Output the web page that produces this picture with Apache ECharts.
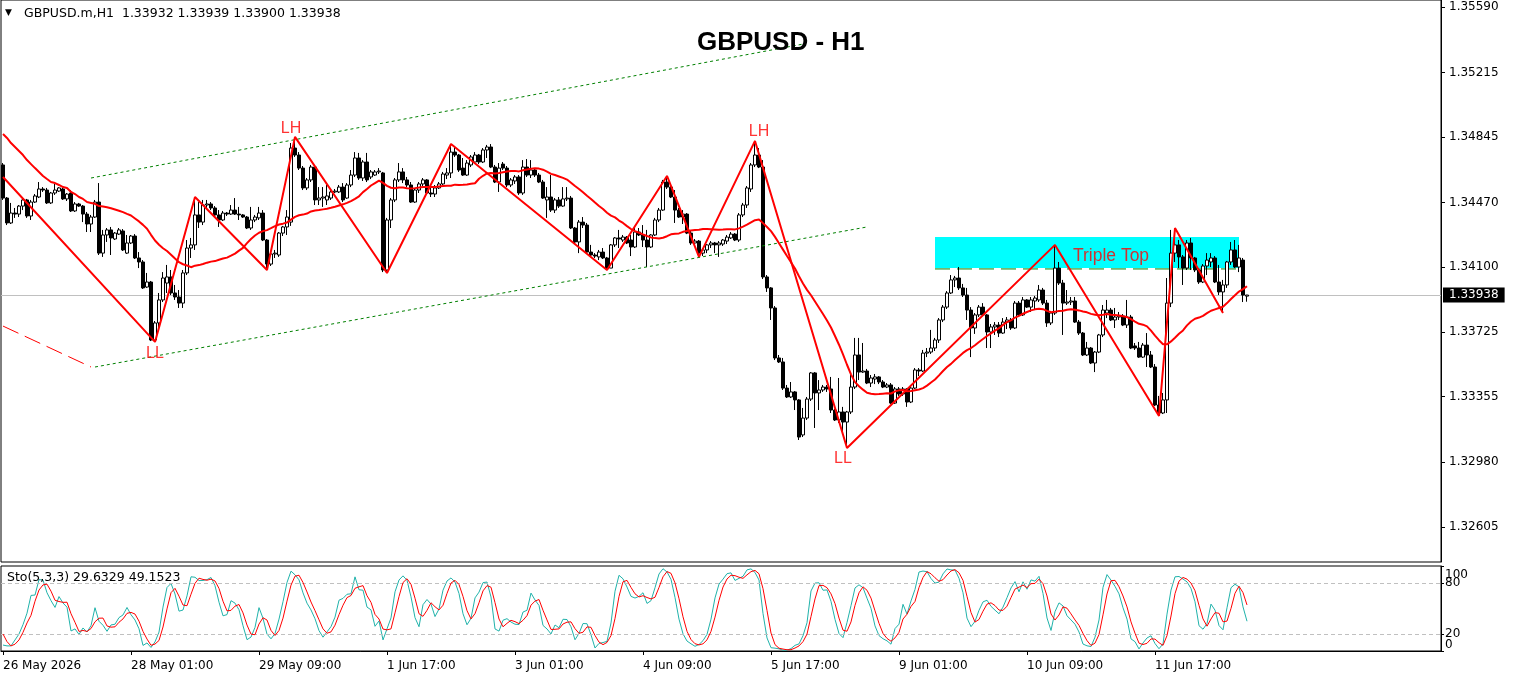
<!DOCTYPE html>
<html><head><meta charset="utf-8">
<script src="https://cdn.jsdelivr.net/npm/echarts@6/dist/echarts.min.js"></script>
<style>html,body{margin:0;padding:0;background:#fff}#c{width:1513px;height:679px}</style>
</head><body><div id="c"></div>
<script>
// ---------- DATA ----------
// hourly candles: [open, high, low, close]
const ohlc = [
[1.34685,1.34696,1.34484,1.34495],[1.34495,1.34501,1.34340,1.34352],[1.34352,1.34467,1.34346,1.34409],[1.34409,1.34438,1.34381,1.34403],
[1.34403,1.34455,1.34386,1.34449],[1.34449,1.34501,1.34426,1.34484],[1.34484,1.34490,1.34381,1.34392],[1.34392,1.34484,1.34369,1.34472],
[1.34472,1.34518,1.34467,1.34507],[1.34501,1.34587,1.34495,1.34547],[1.34547,1.34558,1.34530,1.34541],[1.34541,1.34553,1.34461,1.34467],
[1.34467,1.34530,1.34461,1.34524],[1.34524,1.34576,1.34513,1.34541],[1.34535,1.34558,1.34530,1.34553],[1.34547,1.34553,1.34484,1.34490],
[1.34490,1.34524,1.34478,1.34518],[1.34524,1.34541,1.34415,1.34421],[1.34421,1.34472,1.34415,1.34461],[1.34461,1.34467,1.34444,1.34449],
[1.34449,1.34455,1.34357,1.34403],[1.34403,1.34415,1.34300,1.34346],[1.34346,1.34398,1.34300,1.34386],[1.34386,1.34484,1.34381,1.34472],
[1.34472,1.34581,1.34168,1.34179],[1.34179,1.34312,1.34157,1.34283],[1.34283,1.34323,1.34243,1.34312],[1.34312,1.34329,1.34168,1.34266],
[1.34260,1.34300,1.34254,1.34294],[1.34288,1.34323,1.34283,1.34312],[1.34306,1.34317,1.34191,1.34197],[1.34179,1.34283,1.34174,1.34237],
[1.34237,1.34283,1.34231,1.34277],[1.34277,1.34288,1.34145,1.34151],[1.34151,1.34185,1.34093,1.34128],[1.34128,1.34139,1.33973,1.33979],
[1.33984,1.34065,1.33979,1.34013],[1.34013,1.34019,1.33674,1.33680],[1.33680,1.33789,1.33669,1.33778],[1.33778,1.33950,1.33738,1.33910],
[1.33910,1.34070,1.33898,1.34036],[1.34007,1.34111,1.33950,1.34042],[1.34042,1.34082,1.33938,1.33950],[1.33950,1.33996,1.33910,1.33927],
[1.33927,1.33967,1.33864,1.33892],[1.33892,1.34082,1.33864,1.34065],[1.34065,1.34254,1.34053,1.34208],[1.34208,1.34266,1.34151,1.34226],
[1.34226,1.34501,1.34197,1.34398],[1.34398,1.34472,1.34323,1.34357],[1.34357,1.34484,1.34340,1.34455],[1.34455,1.34484,1.34438,1.34461],
[1.34461,1.34472,1.34426,1.34438],[1.34438,1.34449,1.34386,1.34398],[1.34398,1.34426,1.34329,1.34369],[1.34369,1.34421,1.34363,1.34409],
[1.34409,1.34415,1.34392,1.34403],[1.34403,1.34455,1.34398,1.34426],[1.34426,1.34495,1.34398,1.34403],[1.34403,1.34444,1.34369,1.34398],
[1.34398,1.34403,1.34381,1.34386],[1.34386,1.34392,1.34317,1.34323],[1.34323,1.34444,1.34312,1.34369],[1.34369,1.34398,1.34357,1.34386],
[1.34381,1.34444,1.34369,1.34409],[1.34409,1.34426,1.34248,1.34254],[1.34254,1.34260,1.34082,1.34116],[1.34116,1.34185,1.34105,1.34174],
[1.34174,1.34197,1.34151,1.34179],[1.34168,1.34300,1.34157,1.34294],[1.34294,1.34335,1.34277,1.34329],[1.34329,1.34426,1.34283,1.34386],
[1.34357,1.34811,1.34335,1.34782],[1.34782,1.34846,1.34731,1.34742],[1.34742,1.34759,1.34656,1.34667],[1.34667,1.34679,1.34541,1.34553],
[1.34553,1.34610,1.34541,1.34599],[1.34599,1.34685,1.34587,1.34673],[1.34673,1.34679,1.34455,1.34484],[1.34484,1.34558,1.34455,1.34495],
[1.34495,1.34558,1.34444,1.34501],[1.34484,1.34570,1.34455,1.34507],[1.34495,1.34541,1.34484,1.34530],[1.34530,1.34547,1.34524,1.34535],
[1.34530,1.34570,1.34524,1.34558],[1.34558,1.34581,1.34472,1.34484],[1.34495,1.34581,1.34490,1.34570],[1.34570,1.34656,1.34558,1.34627],
[1.34627,1.34759,1.34616,1.34725],[1.34725,1.34754,1.34599,1.34610],[1.34610,1.34713,1.34593,1.34702],[1.34702,1.34754,1.34587,1.34599],
[1.34616,1.34656,1.34604,1.34645],[1.34627,1.34656,1.34622,1.34645],[1.34645,1.34667,1.34633,1.34650],[1.34639,1.34645,1.34070,1.34082],
[1.34082,1.34381,1.34065,1.34369],[1.34369,1.34495,1.34323,1.34484],[1.34484,1.34610,1.34472,1.34599],[1.34599,1.34696,1.34587,1.34645],
[1.34645,1.34667,1.34581,1.34599],[1.34599,1.34616,1.34558,1.34570],[1.34570,1.34587,1.34467,1.34472],[1.34472,1.34553,1.34467,1.34541],
[1.34541,1.34587,1.34524,1.34576],[1.34576,1.34610,1.34564,1.34599],[1.34599,1.34604,1.34518,1.34524],[1.34524,1.34553,1.34501,1.34518],
[1.34518,1.34570,1.34501,1.34553],[1.34553,1.34587,1.34547,1.34576],[1.34576,1.34645,1.34570,1.34633],[1.34627,1.34667,1.34604,1.34639],
[1.34639,1.34805,1.34610,1.34759],[1.34759,1.34794,1.34731,1.34742],[1.34742,1.34748,1.34645,1.34656],[1.34667,1.34725,1.34622,1.34627],
[1.34627,1.34713,1.34622,1.34696],[1.34685,1.34742,1.34673,1.34731],[1.34702,1.34759,1.34696,1.34742],[1.34742,1.34748,1.34690,1.34702],
[1.34702,1.34782,1.34696,1.34771],[1.34771,1.34800,1.34725,1.34788],[1.34788,1.34805,1.34667,1.34673],[1.34673,1.34685,1.34581,1.34587],
[1.34587,1.34696,1.34530,1.34667],[1.34690,1.34702,1.34656,1.34667],[1.34667,1.34679,1.34558,1.34570],[1.34570,1.34610,1.34558,1.34599],
[1.34593,1.34627,1.34576,1.34616],[1.34616,1.34627,1.34513,1.34524],[1.34524,1.34713,1.34513,1.34673],[1.34673,1.34719,1.34616,1.34627],
[1.34627,1.34713,1.34610,1.34656],[1.34656,1.34667,1.34616,1.34627],[1.34627,1.34639,1.34581,1.34587],[1.34587,1.34599,1.34490,1.34495],
[1.34484,1.34558,1.34381,1.34501],[1.34501,1.34627,1.34415,1.34426],[1.34426,1.34495,1.34409,1.34484],[1.34484,1.34501,1.34438,1.34449],
[1.34449,1.34558,1.34444,1.34490],[1.34490,1.34558,1.34478,1.34495],[1.34495,1.34507,1.34317,1.34323],[1.34323,1.34329,1.34231,1.34243],
[1.34243,1.34369,1.34179,1.34357],[1.34357,1.34386,1.34323,1.34340],[1.34340,1.34352,1.34174,1.34185],[1.34185,1.34226,1.34162,1.34168],
[1.34168,1.34179,1.34151,1.34162],[1.34157,1.34197,1.34139,1.34185],[1.34185,1.34208,1.34145,1.34151],[1.34151,1.34157,1.34082,1.34093],
[1.34093,1.34231,1.34093,1.34226],[1.34226,1.34271,1.34214,1.34266],[1.34266,1.34312,1.34208,1.34260],[1.34254,1.34283,1.34243,1.34271],
[1.34271,1.34277,1.34231,1.34237],[1.34254,1.34283,1.34162,1.34214],[1.34214,1.34329,1.34208,1.34300],[1.34300,1.34323,1.34277,1.34283],
[1.34283,1.34340,1.34214,1.34254],[1.34254,1.34312,1.34099,1.34214],[1.34214,1.34288,1.34208,1.34283],[1.34283,1.34381,1.34277,1.34369],
[1.34369,1.34438,1.34357,1.34426],[1.34426,1.34599,1.34421,1.34587],[1.34587,1.34622,1.34547,1.34558],[1.34558,1.34570,1.34495,1.34501],
[1.34501,1.34541,1.34352,1.34426],[1.34426,1.34438,1.34381,1.34386],[1.34386,1.34426,1.34346,1.34403],[1.34403,1.34409,1.34288,1.34294],
[1.34294,1.34306,1.34226,1.34237],[1.34237,1.34260,1.34220,1.34248],[1.34248,1.34254,1.34157,1.34179],[1.34179,1.34208,1.34162,1.34197],
[1.34197,1.34231,1.34179,1.34226],[1.34226,1.34248,1.34208,1.34237],[1.34237,1.34243,1.34179,1.34226],[1.34226,1.34248,1.34157,1.34237],
[1.34231,1.34260,1.34220,1.34254],[1.34248,1.34283,1.34231,1.34271],[1.34266,1.34300,1.34260,1.34288],[1.34288,1.34294,1.34248,1.34254],
[1.34254,1.34409,1.34243,1.34398],[1.34398,1.34467,1.34386,1.34455],[1.34455,1.34564,1.34438,1.34553],[1.34547,1.34696,1.34530,1.34685],
[1.34685,1.34823,1.34673,1.34742],[1.34742,1.34782,1.34667,1.34673],[1.34673,1.34713,1.34030,1.34042],[1.34042,1.34053,1.33956,1.33979],
[1.33979,1.33984,1.33795,1.33864],[1.33864,1.33875,1.33565,1.33577],[1.33577,1.33594,1.33548,1.33554],[1.33554,1.33577,1.33393,1.33404],
[1.33404,1.33422,1.33347,1.33353],[1.33353,1.33439,1.33347,1.33382],[1.33382,1.33387,1.33278,1.33336],[1.33336,1.33341,1.33106,1.33123],
[1.33135,1.33290,1.33123,1.33232],[1.33232,1.33353,1.33221,1.33341],[1.33341,1.33496,1.33330,1.33491],[1.33491,1.33496,1.33175,1.33376],
[1.33376,1.33450,1.33278,1.33393],[1.33393,1.33422,1.33382,1.33410],[1.33410,1.33422,1.33382,1.33399],[1.33399,1.33468,1.33261,1.33278],
[1.33278,1.33284,1.33215,1.33221],[1.33221,1.33462,1.33204,1.33267],[1.33267,1.33296,1.33146,1.33209],[1.33209,1.33273,1.33060,1.33267],
[1.33267,1.33491,1.33255,1.33410],[1.33410,1.33692,1.33399,1.33594],[1.33594,1.33692,1.33450,1.33496],[1.33496,1.33663,1.33491,1.33502],
[1.33502,1.33514,1.33427,1.33433],[1.33433,1.33479,1.33410,1.33462],[1.33456,1.33485,1.33427,1.33468],[1.33468,1.33473,1.33427,1.33439],
[1.33439,1.33450,1.33404,1.33410],[1.33410,1.33433,1.33404,1.33422],[1.33422,1.33433,1.33313,1.33318],[1.33318,1.33410,1.33313,1.33399],
[1.33399,1.33410,1.33359,1.33370],[1.33370,1.33410,1.33359,1.33399],[1.33399,1.33404,1.33296,1.33324],[1.33324,1.33416,1.33318,1.33404],
[1.33404,1.33519,1.33399,1.33508],[1.33508,1.33519,1.33473,1.33502],[1.33502,1.33623,1.33496,1.33605],[1.33605,1.33634,1.33582,1.33611],
[1.33611,1.33738,1.33600,1.33634],[1.33634,1.33692,1.33617,1.33680],[1.33680,1.33806,1.33663,1.33795],[1.33795,1.33881,1.33783,1.33869],
[1.33869,1.33961,1.33858,1.33950],[1.33950,1.34053,1.33944,1.34025],[1.34025,1.34048,1.33984,1.34036],[1.34036,1.34099,1.33967,1.33979],
[1.33979,1.34002,1.33927,1.33938],[1.33938,1.33979,1.33795,1.33852],[1.33852,1.33869,1.33582,1.33749],[1.33749,1.33835,1.33715,1.33824],
[1.33824,1.33881,1.33812,1.33869],[1.33869,1.33892,1.33818,1.33824],[1.33824,1.33829,1.33634,1.33726],[1.33726,1.33772,1.33634,1.33755],
[1.33755,1.33783,1.33709,1.33766],[1.33766,1.33783,1.33697,1.33720],[1.33720,1.33806,1.33715,1.33783],[1.33783,1.33812,1.33743,1.33795],
[1.33795,1.33806,1.33738,1.33749],[1.33749,1.33904,1.33743,1.33892],[1.33892,1.33904,1.33818,1.33824],[1.33824,1.33927,1.33818,1.33910],
[1.33910,1.33915,1.33864,1.33869],[1.33869,1.33927,1.33841,1.33910],[1.33904,1.33933,1.33852,1.33921],[1.33910,1.33996,1.33898,1.33967],
[1.33967,1.33979,1.33881,1.33892],[1.33892,1.33910,1.33755,1.33778],[1.33778,1.33847,1.33766,1.33835],[1.33835,1.34226,1.33824,1.34093],
[1.34093,1.34128,1.33996,1.34007],[1.34007,1.34025,1.33709,1.33892],[1.33892,1.33967,1.33881,1.33898],[1.33898,1.33927,1.33881,1.33904],
[1.33904,1.33927,1.33778,1.33783],[1.33783,1.33795,1.33709,1.33720],[1.33720,1.33726,1.33588,1.33594],[1.33594,1.33669,1.33588,1.33634],
[1.33634,1.33640,1.33542,1.33548],[1.33548,1.33617,1.33496,1.33611],[1.33611,1.33715,1.33605,1.33709],[1.33709,1.33881,1.33697,1.33852],
[1.33835,1.33910,1.33806,1.33852],[1.33852,1.33864,1.33789,1.33795],[1.33795,1.33864,1.33749,1.33812],[1.33812,1.33841,1.33795,1.33818],
[1.33818,1.33829,1.33760,1.33766],[1.33766,1.33910,1.33749,1.33812],[1.33812,1.33824,1.33628,1.33634],[1.33646,1.33663,1.33623,1.33634],
[1.33634,1.33669,1.33577,1.33582],[1.33582,1.33663,1.33577,1.33651],[1.33651,1.33720,1.33525,1.33594],[1.33594,1.33617,1.33519,1.33525],
[1.33525,1.33542,1.33301,1.33307],[1.33307,1.33359,1.33244,1.33261],[1.33261,1.33376,1.33255,1.33336],[1.33336,1.34036,1.33261,1.33892],
[1.33892,1.34312,1.33869,1.34179],[1.34179,1.34323,1.34128,1.34226],[1.34226,1.34254,1.34093,1.34157],[1.34157,1.34168,1.33996,1.34093],
[1.34093,1.34254,1.34082,1.34237],[1.34237,1.34266,1.34082,1.34151],[1.34151,1.34157,1.34070,1.34082],[1.34082,1.34093,1.34002,1.34013],
[1.34013,1.34116,1.34007,1.34105],[1.34105,1.34179,1.34053,1.34139],[1.34128,1.34179,1.34099,1.34151],[1.34151,1.34162,1.34007,1.34013],
[1.34013,1.34111,1.33938,1.33956],[1.33956,1.34025,1.33835,1.33996],[1.33996,1.34134,1.33979,1.34128],[1.34128,1.34243,1.34111,1.34197],
[1.34197,1.34254,1.34093,1.34099],[1.34099,1.34226,1.34070,1.34151],[1.34139,1.34151,1.33898,1.33938],[1.33932,1.33939,1.33900,1.33938]
];
// moving average values on the first bars (its history lies left of the chart)
const maHead = [1.34863,1.34840,1.34811,1.34788,1.34765,1.34742,1.34713,1.34690,1.34667,1.34645,1.34622,1.34604,
                1.34587,1.34581,1.34570,1.34558,1.34553,1.34530,1.34518,1.34501,1.34490,1.34472,1.34467];
const maPeriod = 24;
// stochastic values on the first bars (before they can be computed)
const stochKHead = [7, 6, 6, 13, 20, 31];
const stochDHead = [20, 11, 6, 8, 13, 22, 33, 42];
// zigzag swing points
const zzBars   = [0, 38, 48, 66, 73, 96, 112, 151, 166, 174, 188, 211, 263, 289, 293, 305];
const zzPrices = [1.34616,1.33669,1.34501,1.34082,1.34846,1.34065,1.34805,1.34082,1.34622,1.34157,1.34823,1.33060,1.34226,1.33244,1.34323,1.33835];
// trend lines [bar, price]
const upperChannel = [[22, 1.34610], [200, 1.35379]];
const lowerChannel = [[23, 1.33525], [216, 1.34329]];
const redTrend     = [[0, 1.33760], [22, 1.33525]];
// triple top zone
const zoneBars   = [233, 309];
const zonePrices = [1.34272, 1.34094];
const zoneLine   = [[233, 1.34088], [309, 1.34088]];
// swing labels
const swingText   = ['LH', 'LH', 'LL', 'LL'];
const swingBars   = [72, 189, 38, 210];
const swingPrices = [1.34891, 1.34877, 1.33603, 1.32997];
const patternText = 'Triple Top', patternBar = 277, patternPrice = 1.34162;
// axes
const priceTicks = [1.35590,1.35215,1.34845,1.34470,1.34100,1.33725,1.33355,1.32980,1.32605];
const tickLabels = ['26 May 2026','28 May 01:00','29 May 09:00','1 Jun 17:00','3 Jun 01:00','4 Jun 09:00','5 Jun 17:00','9 Jun 01:00','10 Jun 09:00','11 Jun 17:00'];
const lastPrice = 1.33938;
const headerText = 'GBPUSD.m,H1  1.33932 1.33939 1.33900 1.33938';
const stochText = 'Sto(5,3,3) 29.6329 49.1523';

// ---------- build ----------
const FONT = 'DejaVu Sans';
const N = ohlc.length, SLOTS = 360, LABEL_EVERY = 32;
const MONTHS = ['Jan','Feb','Mar','Apr','May','Jun','Jul','Aug','Sep','Oct','Nov','Dec'];
const categories = [];
for (let t = Date.UTC(2026,4,26,17); categories.length < SLOTS; t += 3600000) {
  const d = new Date(t), wd = d.getUTCDay();
  if (wd === 0 || wd === 6) continue;
  categories.push(d.getUTCDate()+' '+MONTHS[d.getUTCMonth()]+' '+String(d.getUTCHours()).padStart(2,'0')+':00');
}
const closes = ohlc.map(r => r[3]);
const ma = closes.map((c, i) => {
  if (i < maPeriod - 1) return maHead[i];
  let s = 0; for (let j = i - maPeriod + 1; j <= i; j++) s += closes[j];
  return +(s / maPeriod).toFixed(5);
});
// stochastic (5,3,3)
const num = [], den = [], K = [], D = [];
for (let i = 0; i < N; i++) {
  if (i >= 4) {
    let hh = -1, ll = 9;
    for (let j = i - 4; j <= i; j++) { hh = Math.max(hh, ohlc[j][1]); ll = Math.min(ll, ohlc[j][2]); }
    num[i] = closes[i] - ll; den[i] = hh - ll;
  }
  if (i >= 6) {
    const a = num[i]+num[i-1]+num[i-2], b = den[i]+den[i-1]+den[i-2];
    K[i] = b > 0 ? 100 * a / b : 50;
  } else K[i] = stochKHead[i];
  D[i] = i >= 8 ? (K[i]+K[i-1]+K[i-2]) / 3 : stochDHead[i];
}
const candleData = ohlc.map(r => [r[0], r[3], r[2], r[1]]);
const zz = zzBars.map((b, i) => [b, zzPrices[i]]);

const chart = echarts.init(document.getElementById('c'), null, {renderer: 'canvas'});
const axisTxt = {color: '#000', fontFamily: FONT, fontSize: 12};
chart.setOption({
  animation: false,
  backgroundColor: '#fff',
  title: [
    {text: '▼', left: 5, top: 8, padding: 0, textStyle: {fontSize: 9, color: '#000', fontWeight: 'normal', fontFamily: FONT}},
    {text: headerText, left: 24, top: 7, padding: 0, textStyle: {fontSize: 12.5, color: '#000', fontWeight: 'normal', fontFamily: FONT}},
    {text: 'GBPUSD - H1', left: 697, top: 30, padding: 0, textStyle: {fontSize: 26, color: '#000', fontWeight: 'bold', fontFamily: 'Liberation Sans'}},
    {text: stochText, left: 7, top: 571, padding: 0, textStyle: {fontSize: 12.5, color: '#000', fontWeight: 'normal', fontFamily: FONT}}
  ],
  grid: [
    {left: 1, top: 0, width: 1440, height: 562, show: true, borderColor: '#000', borderWidth: 1, backgroundColor: 'transparent'},
    {left: 1, top: 566, width: 1440, height: 85, show: true, borderColor: '#000', borderWidth: 1, backgroundColor: 'transparent'}
  ],
  xAxis: [
    {type: 'category', gridIndex: 0, data: categories, boundaryGap: true, show: false},
    {type: 'category', gridIndex: 1, data: categories, boundaryGap: true,
     axisLine: {show: true, lineStyle: {color: '#000', width: 1}},
     axisTick: {show: true, alignWithLabel: true, length: 4, lineStyle: {color: '#000'},
                interval: (i) => i % LABEL_EVERY === 0 && i / LABEL_EVERY < tickLabels.length},
     axisLabel: {show: true, ...axisTxt, align: 'left', margin: 9,
                 interval: (i) => i % LABEL_EVERY === 0 && i / LABEL_EVERY < tickLabels.length,
                 formatter: (v, i) => tickLabels[i / LABEL_EVERY] || ''},
     splitLine: {show: false}}
  ],
  yAxis: [
    {type: 'value', gridIndex: 0, position: 'right', min: 1.324056, max: 1.35632, scale: true,
     axisLine: {show: true, lineStyle: {color: '#000'}},
     axisTick: {show: true, length: 4, customValues: priceTicks, lineStyle: {color: '#000'}},
     axisLabel: {show: true, ...axisTxt, margin: 8, customValues: priceTicks, formatter: v => v.toFixed(5)},
     splitLine: {show: false}},
    {type: 'value', gridIndex: 1, position: 'right', min: 0, max: 100,
     axisLine: {show: true, lineStyle: {color: '#000'}},
     axisTick: {show: true, length: 3, customValues: [0, 20, 80, 100], lineStyle: {color: '#000'}},
     axisLabel: {show: true, ...axisTxt, margin: 4, customValues: [20, 80]},
     splitLine: {show: false}},
    {type: 'value', gridIndex: 1, position: 'right', min: 0, max: 100,
     axisLine: {show: false}, axisTick: {show: false}, splitLine: {show: false},
     axisLabel: {show: true, ...axisTxt, margin: 4, customValues: [100], verticalAlign: 'top', padding: [3, 0, 0, 0]}},
    {type: 'value', gridIndex: 1, position: 'right', min: 0, max: 100,
     axisLine: {show: false}, axisTick: {show: false}, splitLine: {show: false},
     axisLabel: {show: true, ...axisTxt, margin: 4, customValues: [0], verticalAlign: 'bottom'}}
  ],
  series: [
    {type: 'line', name: 'zone', xAxisIndex: 0, yAxisIndex: 0, data: zoneLine, symbol: 'none', silent: true, z: 1,
     lineStyle: {color: '#008000', width: 1, type: [15, 7]},
     markArea: {silent: true, itemStyle: {color: '#00FFFF', opacity: 1},
                data: [[{coord: [zoneBars[0], zonePrices[0]]}, {coord: [zoneBars[1], zonePrices[1]]}]]}},
    {type: 'candlestick', name: 'GBPUSD', xAxisIndex: 0, yAxisIndex: 0, data: candleData, barWidth: 3, silent: true, z: 3,
     itemStyle: {color: '#fff', color0: '#000', borderColor: '#000', borderColor0: '#000', borderWidth: 1},
     markLine: {silent: true, symbol: ['none', 'none'], z: 2, precision: 5,
                lineStyle: {color: '#C0C0C0', width: 1, type: 'solid'},
                label: {show: true, position: 'end', distance: 2, formatter: () => lastPrice.toFixed(5),
                        color: '#fff', backgroundColor: '#000', padding: [2, 6, 1, 6], fontFamily: FONT, fontSize: 12},
                data: [{yAxis: lastPrice}]}},
    {type: 'line', name: 'channelUp', xAxisIndex: 0, yAxisIndex: 0, data: upperChannel, symbol: 'none', silent: true, z: 4,
     lineStyle: {color: '#008000', width: 1, type: [3, 3]}},
    {type: 'line', name: 'channelDn', xAxisIndex: 0, yAxisIndex: 0, data: lowerChannel, symbol: 'none', silent: true, z: 4,
     lineStyle: {color: '#008000', width: 1, type: [3, 3]}},
    {type: 'line', name: 'redTrend', xAxisIndex: 0, yAxisIndex: 0, data: redTrend, symbol: 'none', silent: true, z: 4,
     lineStyle: {color: '#FF0000', width: 1, type: [17, 7]}},
    {type: 'line', name: 'MA', xAxisIndex: 0, yAxisIndex: 0, data: ma, symbol: 'none', silent: true, z: 5,
     lineStyle: {color: '#FF0000', width: 2}},
    {type: 'line', name: 'ZigZag', xAxisIndex: 0, yAxisIndex: 0, data: zz, symbol: 'none', silent: true, z: 5,
     lineStyle: {color: '#FF0000', width: 2}},
    {type: 'scatter', name: 'swings', xAxisIndex: 0, yAxisIndex: 0, symbolSize: 0, silent: true, z: 6,
     data: swingBars.map((b, i) => ({name: swingText[i], value: [b, swingPrices[i]]})),
     label: {show: true, position: 'inside', formatter: '{b}', color: '#FF0000', fontSize: 16, fontFamily: 'Liberation Sans'}},
    {type: 'scatter', name: 'pattern', xAxisIndex: 0, yAxisIndex: 0, symbolSize: 0, silent: true, z: 6,
     data: [{name: patternText, value: [patternBar, patternPrice]}],
     label: {show: true, position: 'inside', formatter: '{b}', color: '#FF0000', fontSize: 17.5, fontFamily: 'Liberation Sans'}},
    {type: 'line', name: '%K', xAxisIndex: 1, yAxisIndex: 1, data: K.map(v => +v.toFixed(2)), symbol: 'none', silent: true, z: 4,
     lineStyle: {color: '#20B2AA', width: 1},
     markLine: {silent: true, symbol: ['none', 'none'], label: {show: false},
                lineStyle: {color: '#C0C0C0', width: 1, type: [4, 3]}, data: [{yAxis: 20}, {yAxis: 80}]}},
    {type: 'line', name: '%D', xAxisIndex: 1, yAxisIndex: 1, data: D.map(v => +v.toFixed(2)), symbol: 'none', silent: true, z: 5,
     lineStyle: {color: '#FF0000', width: 1}}
  ]
});
</script>
</body></html>
